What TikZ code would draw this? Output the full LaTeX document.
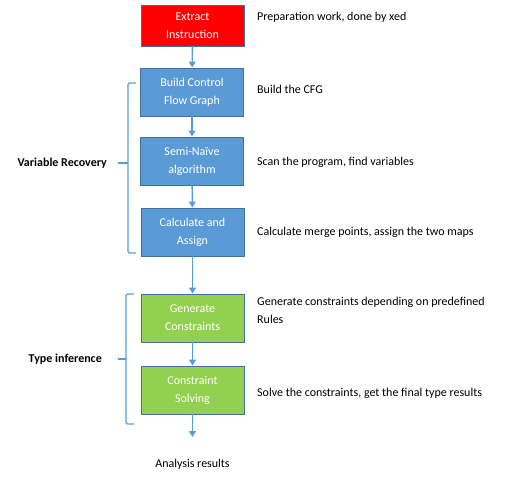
\documentclass[tikz,border=0pt]{standalone}
\usepackage{fontspec}
\setmainfont{Carlito}
\usetikzlibrary{arrows.meta}
\definecolor{boxblue}{HTML}{5B9BD5}
\definecolor{edgeblue}{HTML}{41719C}
\definecolor{boxgreen}{HTML}{92D050}
\definecolor{boxred}{HTML}{FF0000}

\begin{document}
\begin{tikzpicture}[x=1pt,y=-1pt,font=\fontsize{12}{18}\selectfont,
    stage/.style={draw=edgeblue,line width=0.9pt,minimum width=103pt,minimum height=48pt,
      text=white,align=center,inner sep=0pt},
    flow/.style={boxblue,line width=1.4pt,-{Triangle[length=6pt,width=7pt]}},
    brace/.style={boxblue,line width=1.2pt,rounded corners=1.5pt},
    note/.style={anchor=west,inner sep=0pt},
    group/.style={anchor=east,inner sep=0pt,font=\fontsize{12}{18}\selectfont\bfseries}]
        \useasboundingbox (0,0) rectangle (513,485);
        % stages
        \node[stage,fill=boxred,minimum height=41pt] (extract) at (192.5,25.5) {Extract\\Instruction};
        \node[stage,fill=boxblue] (cfg) at (192,92) {Build Control\\Flow Graph};
        \node[stage,fill=boxblue] (naive) at (192,161) {Semi-Naïve\\algorithm};
        \node[stage,fill=boxblue] (assign) at (192.5,232) {Calculate and\\Assign};
        \node[stage,fill=boxgreen] (gen) at (192.5,318) {Generate\\Constraints};
        \node[stage,fill=boxgreen] (solve) at (192.5,390) {Constraint\\Solving};
        \coordinate (done) at (192.5,437);
        \node[inner sep=0pt,text=black] (result) at (192.5,464) {Analysis results};
        \draw[flow] (extract) -- (cfg);
        \draw[flow] (cfg) -- (naive);
        \draw[flow] (naive) -- (assign);
        \draw[flow] (assign) -- (gen);
        \draw[flow] (gen) -- (solve);
        \draw[flow] (solve) -- (done);
        % brackets
        \draw[brace] (136,83) -- (128,83) -- (128,253) -- (136,253);
        \draw[boxblue,line width=1.2pt] (128,163) -- (118,163);
        \node[group] (varrec) at (107,163) {Variable Recovery};
        \draw[brace] (134,294) -- (126,294) -- (126,424) -- (134,424);
        \draw[boxblue,line width=1.2pt] (126,359) -- (118,359);
        \node[group] (typeinf) at (102,359) {Type inference};
        % notes
        \node[note] (n1) at (257,17) {Preparation work, done by xed};
        \node[note] (n2) at (257,89) {Build the CFG};
        \node[note] (n3) at (257,162) {Scan the program, find variables};
        \node[note] (n4) at (257,232) {Calculate merge points, assign the two maps};
        \node[note,align=left,anchor=north west] (n5) at (257,297) {Generate constraints depending on predefined\\Rules};
        \node[note] (n6) at (257,393) {Solve the constraints, get the final type results};
\end{tikzpicture}
\end{document}
